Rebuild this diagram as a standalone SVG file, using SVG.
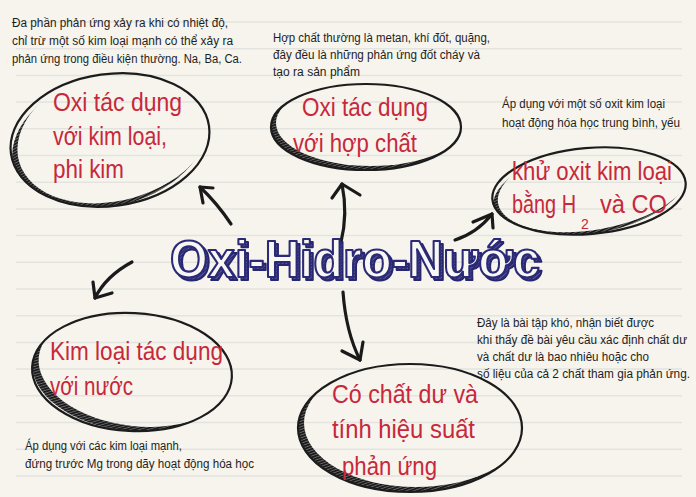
<svg xmlns="http://www.w3.org/2000/svg" width="696" height="497" viewBox="0 0 696 497">
<style>
.rule{stroke:#e3e4e0;stroke-width:1.5}
.oval{fill:none;stroke:#1c1c1c;stroke-width:2.2}
.band{fill:url(#hatch)}
.red{font-family:"Liberation Sans",Arial,sans-serif;font-size:26px;fill:#c7283b}
.note{font-family:"Liberation Sans",Arial,sans-serif;font-size:12px;fill:#1e1e1e}
.arrow{fill:none;stroke:#1a1a1a;stroke-width:3.2;stroke-linecap:round;stroke-linejoin:round}
.title{font-family:"Liberation Sans",Arial,sans-serif;font-weight:700;font-size:52px}
</style>
<defs>
<pattern id="hatch" width="2.6" height="2.6" patternUnits="userSpaceOnUse" patternTransform="rotate(70)">
<rect width="2.6" height="2.6" fill="#6a6a6a"/>
<line x1="0.8" y1="0" x2="0.8" y2="2.6" stroke="#151515" stroke-width="1.6"/>
</pattern>
<pattern id="navyhatch" width="2.4" height="2.4" patternUnits="userSpaceOnUse" patternTransform="rotate(50)">
<rect width="2.4" height="2.4" fill="#5c5b9a"/>
<line x1="0.6" y1="0" x2="0.6" y2="2.4" stroke="#27266f" stroke-width="1.4"/>
</pattern>
<mask id="m1"><ellipse cx="110" cy="140" rx="100" ry="66" transform="rotate(-8 110 140)" fill="#fff"/><ellipse cx="116" cy="135" rx="100" ry="66" transform="rotate(-8 116 135)" fill="#000"/></mask>
<mask id="m2"><ellipse cx="366" cy="127" rx="95" ry="43" fill="#fff"/><ellipse cx="371" cy="123" rx="95" ry="43" fill="#000"/></mask>
<mask id="m3"><ellipse cx="589" cy="191" rx="97" ry="43" transform="rotate(-5 589 191)" fill="#fff"/><ellipse cx="594" cy="187" rx="97" ry="43" transform="rotate(-5 594 187)" fill="#000"/></mask>
<mask id="m4"><ellipse cx="132" cy="372" rx="100" ry="59" transform="rotate(3 132 372)" fill="#fff"/><ellipse cx="138" cy="367" rx="100" ry="59" transform="rotate(3 138 367)" fill="#000"/></mask>
<mask id="m5"><ellipse cx="410" cy="428" rx="112" ry="64" fill="#fff"/><ellipse cx="416" cy="423" rx="112" ry="64" fill="#000"/></mask>
</defs>

<rect width="696" height="497" fill="#f6f4ec"/>
<g id="ruled-lines">
<line class="rule" x1="16" y1="22" x2="682" y2="22"/>
<line class="rule" x1="16" y1="48.7" x2="682" y2="48.7"/>
<line class="rule" x1="16" y1="75.4" x2="682" y2="75.4"/>
<line class="rule" x1="16" y1="102.1" x2="682" y2="102.1"/>
<line class="rule" x1="16" y1="128.8" x2="682" y2="128.8"/>
<line class="rule" x1="16" y1="155.5" x2="682" y2="155.5"/>
<line class="rule" x1="16" y1="182.2" x2="682" y2="182.2"/>
<line class="rule" x1="16" y1="208.9" x2="682" y2="208.9"/>
<line class="rule" x1="16" y1="235.6" x2="682" y2="235.6"/>
<line class="rule" x1="16" y1="262.3" x2="682" y2="262.3"/>
<line class="rule" x1="16" y1="289" x2="682" y2="289"/>
<line class="rule" x1="16" y1="315.7" x2="682" y2="315.7"/>
<line class="rule" x1="16" y1="342.4" x2="682" y2="342.4"/>
<line class="rule" x1="16" y1="369.1" x2="682" y2="369.1"/>
<line class="rule" x1="16" y1="395.8" x2="682" y2="395.8"/>
<line class="rule" x1="16" y1="422.5" x2="682" y2="422.5"/>
<line class="rule" x1="16" y1="449.2" x2="682" y2="449.2"/>
<line class="rule" x1="16" y1="475.9" x2="682" y2="475.9"/>
</g>

<g id="connectors">
<path class="arrow" d="M231,224 Q217,203 200,187"/>
<path class="arrow" d="M213,188 L200,187 L203,203"/>
<path class="arrow" d="M341,242 C346,222 346,204 342,184"/>
<path class="arrow" d="M332,198 L342,184 L360,195"/>
<path class="arrow" d="M455,240 Q477,233 492,214"/>
<path class="arrow" d="M473,222 L492,214 L493,228"/>
<path class="arrow" d="M132,262 Q106,276 95,298"/>
<path class="arrow" d="M93,282 L95,298 L112,293"/>
<path class="arrow" d="M343,292 C345,320 350,340 360,360"/>
<path class="arrow" d="M342,351 L360,360 L363,342"/>
</g>

<g id="title">
<text class="title" x="173" y="280" textLength="370" lengthAdjust="spacingAndGlyphs" fill="url(#navyhatch)" stroke="#27266f" stroke-width="2" stroke-linejoin="round">Oxi-Hidro-Nước</text>
<text class="title" x="170" y="277" textLength="370" lengthAdjust="spacingAndGlyphs" fill="#f8f7f1" stroke="#2b2a78" stroke-width="2.2" stroke-linejoin="round">Oxi-Hidro-Nước</text>
</g>

<g id="node-kim-loai-phi-kim">
<ellipse class="band" cx="110" cy="140" rx="100" ry="66" transform="rotate(-8 110 140)" mask="url(#m1)"/>
<ellipse class="oval" cx="110" cy="140" rx="100" ry="66" transform="rotate(-8 110 140)"/>
<text class="red" x="53" y="111" textLength="129" lengthAdjust="spacingAndGlyphs">Oxi tác dụng</text>
<text class="red" x="53" y="145" textLength="114" lengthAdjust="spacingAndGlyphs">với kim loại,</text>
<text class="red" x="53" y="178" textLength="71" lengthAdjust="spacingAndGlyphs">phi kim</text>
</g>

<g id="node-hop-chat">
<ellipse class="band" cx="366" cy="127" rx="95" ry="43" mask="url(#m2)"/>
<ellipse class="oval" cx="366" cy="127" rx="95" ry="43"/>
<text class="red" x="302" y="116" textLength="126" lengthAdjust="spacingAndGlyphs">Oxi tác dụng</text>
<text class="red" x="293" y="152" textLength="124" lengthAdjust="spacingAndGlyphs">với hợp chất</text>
</g>

<g id="node-khu-oxit">
<ellipse class="band" cx="589" cy="191" rx="97" ry="43" transform="rotate(-5 589 191)" mask="url(#m3)"/>
<ellipse class="oval" cx="589" cy="191" rx="97" ry="43" transform="rotate(-5 589 191)"/>
<text class="red" x="512" y="180" textLength="160" lengthAdjust="spacingAndGlyphs">khử oxit kim loại</text>
<text class="red" x="512" y="213" textLength="64" lengthAdjust="spacingAndGlyphs">bằng H</text>
<text class="red" x="581" y="229" style="font-size:14px">2</text>
<text class="red" x="600" y="213" textLength="67" lengthAdjust="spacingAndGlyphs">và CO</text>
</g>

<g id="node-kim-loai-nuoc">
<ellipse class="band" cx="132" cy="372" rx="100" ry="59" transform="rotate(3 132 372)" mask="url(#m4)"/>
<ellipse class="oval" cx="132" cy="372" rx="100" ry="59" transform="rotate(3 132 372)"/>
<text class="red" x="50" y="360" textLength="173" lengthAdjust="spacingAndGlyphs">Kim loại tác dụng</text>
<text class="red" x="50" y="395" textLength="83" lengthAdjust="spacingAndGlyphs">với nước</text>
</g>

<g id="node-chat-du">
<ellipse class="band" cx="410" cy="428" rx="112" ry="64" mask="url(#m5)"/>
<ellipse class="oval" cx="410" cy="428" rx="112" ry="64"/>
<text class="red" x="332" y="403" textLength="146" lengthAdjust="spacingAndGlyphs">Có chất dư và</text>
<text class="red" x="332" y="438" textLength="143" lengthAdjust="spacingAndGlyphs">tính hiệu suất</text>
<text class="red" x="342" y="475" textLength="95" lengthAdjust="spacingAndGlyphs">phản ứng</text>
</g>

<g id="note-kim-loai">
<text class="note" x="12" y="27" textLength="216" lengthAdjust="spacingAndGlyphs">Đa phần phản ứng xảy ra khi có nhiệt độ,</text>
<text class="note" x="12" y="45" textLength="221" lengthAdjust="spacingAndGlyphs">chỉ trừ một số kim loại mạnh có thể xảy ra</text>
<text class="note" x="12" y="63" textLength="230" lengthAdjust="spacingAndGlyphs">phản ứng trong điều kiện thường. Na, Ba, Ca.</text>
</g>
<g id="note-hop-chat">
<text class="note" x="273" y="42" textLength="217" lengthAdjust="spacingAndGlyphs">Hợp chất thường là metan, khí đốt, quặng,</text>
<text class="note" x="273" y="59" textLength="207" lengthAdjust="spacingAndGlyphs">đây đều là những phản ứng đốt cháy và</text>
<text class="note" x="273" y="76" textLength="87" lengthAdjust="spacingAndGlyphs">tạo ra sản phẩm</text>
</g>
<g id="note-khu-oxit">
<text class="note" x="502" y="108" textLength="163" lengthAdjust="spacingAndGlyphs">Áp dụng với một số oxit kim loại</text>
<text class="note" x="502" y="127" textLength="178" lengthAdjust="spacingAndGlyphs">hoạt động hóa học trung bình, yếu</text>
</g>
<g id="note-nuoc">
<text class="note" x="25" y="450" textLength="157" lengthAdjust="spacingAndGlyphs">Áp dụng với các kim loại mạnh,</text>
<text class="note" x="25" y="468" textLength="229" lengthAdjust="spacingAndGlyphs">đứng trước Mg trong dãy hoạt động hóa học</text>
</g>
<g id="note-chat-du">
<text class="note" x="477" y="327" textLength="177" lengthAdjust="spacingAndGlyphs">Đây là bài tập khó, nhận biết được</text>
<text class="note" x="477" y="344" textLength="210" lengthAdjust="spacingAndGlyphs">khi thấy đề bài yêu cầu xác định chất dư</text>
<text class="note" x="477" y="361" textLength="172" lengthAdjust="spacingAndGlyphs">và chất dư là bao nhiêu hoặc cho</text>
<text class="note" x="477" y="378" textLength="213" lengthAdjust="spacingAndGlyphs">số liệu của cả 2 chất tham gia phản ứng.</text>
</g>
</svg>
